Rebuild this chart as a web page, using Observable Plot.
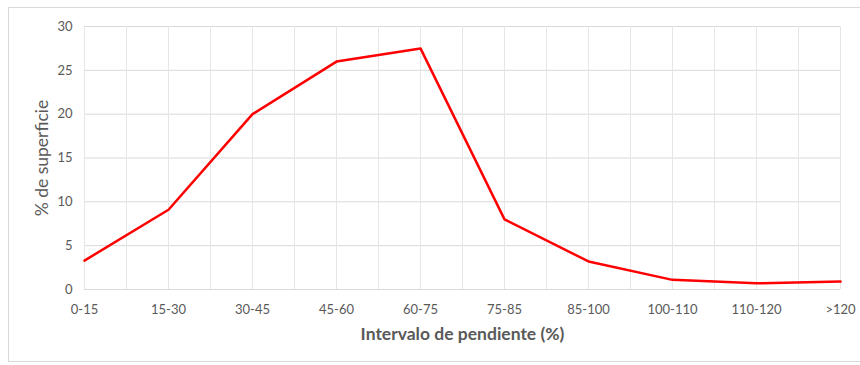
<!DOCTYPE html>
<html>
<head>
<meta charset="utf-8">
<script src="https://cdn.jsdelivr.net/npm/d3@7"></script>
<script src="https://cdn.jsdelivr.net/npm/@observablehq/plot@0.6"></script>
<style>
  html, body { margin: 0; padding: 0; background: #fff; }
  #wrap { position: relative; width: 860px; height: 365px; overflow: hidden; }
  #frame { position: absolute; left: 8px; top: 7px; width: 870px; height: 355px; border: 1px solid #d9d9d9; box-sizing: border-box; pointer-events: none; }
  svg { font-family: Lato, "Open Sans", sans-serif; }
</style>
</head>
<body>
<div id="wrap"><div id="frame"></div></div>
<script>
const categories = ["0-15", "15-30", "30-45", "45-60", "60-75", "75-85", "85-100", "100-110", "110-120", ">120"];
const values = [3.3, 9.1, 20.0, 26.0, 27.5, 8.0, 3.2, 1.1, 0.7, 0.9];
const yTicks = [0, 5, 10, 15, 20, 25, 30];
const xTitle = "Intervalo de pendiente (%)";
const yTitle = "% de superficie";

const data = categories.map((c, i) => ({i, c, v: values[i]}));
const idx = d3.range(categories.length);
const half = d3.range(0, categories.length - 0.5, 0.5);

const chart = Plot.plot({
  width: 860,
  height: 365,
  marginLeft: 84,
  marginRight: 20,
  marginTop: 26,
  marginBottom: 76,
  style: {background: "transparent", fontFamily: "Lato, 'Open Sans', sans-serif"},
  x: {type: "linear", domain: [0, categories.length - 1]},
  y: {domain: [0, 30]},
  marks: [
    Plot.gridY(yTicks, {stroke: "#d9d9d9", strokeOpacity: 1}),
    Plot.gridX(half, {stroke: "#e6e6e6", strokeOpacity: 1}),
    Plot.axisY(yTicks, {tickSize: 0, tickPadding: 12, fontSize: 13, fill: "#595959", label: null}),
    Plot.axisX(idx, {tickSize: 0, tickPadding: 15, fontSize: 13, fill: "#595959", label: null, tickFormat: i => categories[i]}),
    Plot.text([xTitle], {frameAnchor: "bottom", dy: 50, fontSize: 17.5, fontWeight: "bold", fill: "#595959"}),
    Plot.text([yTitle], {frameAnchor: "left", dx: -42, rotate: -90, textAnchor: "middle", fontSize: 17.5, fill: "#595959"}),
    Plot.line(data, {x: "i", y: "v", stroke: "#ff0000", strokeWidth: 2.5})
  ]
});
document.getElementById("wrap").prepend(chart);
</script>
</body>
</html>
